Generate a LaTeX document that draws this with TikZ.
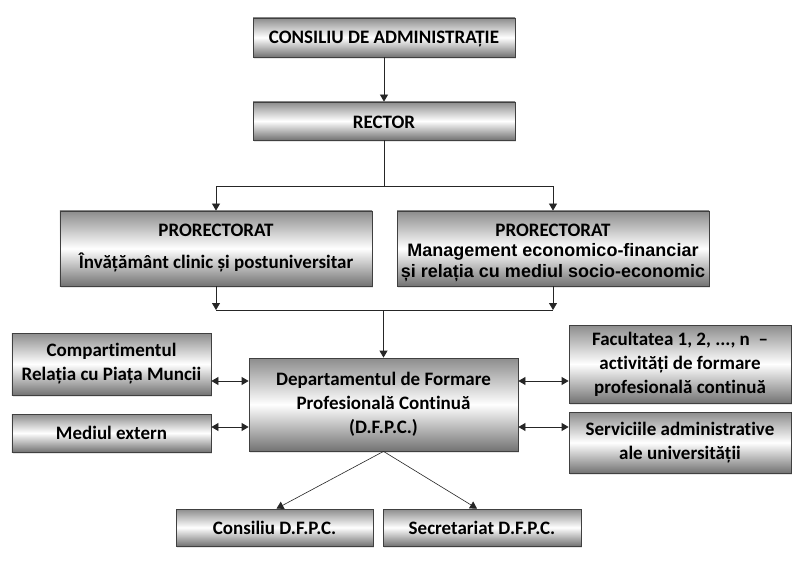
\documentclass[tikz,border=0pt]{standalone}
\usepackage{fontspec}
\setmainfont{Carlito}[Ligatures={NoCommon}]
\newfontfamily\arialb{Liberation Sans}
\usetikzlibrary{arrows.meta,shadows,calc}
\begin{document}
\begin{tikzpicture}[x=1bp,y=-1bp,
  box/.style={draw=black!75, line width=0.8bp, top color=black!45, bottom color=black!55, middle color=white,
    inner sep=0pt, align=center, font=\fontsize{19bp}{24bp}\selectfont\bfseries,
    drop shadow={shadow xshift=1.2bp, shadow yshift=-1.8bp, fill=black!20}},
  arr/.style={line width=0.8bp, draw=black!85, -{Triangle[length=7bp,width=8bp]}},
  dbl/.style={line width=0.8bp, draw=black!85, {Triangle[length=7bp,width=8bp]}-{Triangle[length=7bp,width=8bp]}},
  ln/.style={line width=0.8bp, draw=black!85}]
\useasboundingbox (0,0) rectangle (800,574);
\fill[white] (0,0) rectangle (800,574);

\node[box, minimum width=262bp, minimum height=39bp] (cda) at (384,37.5) {\rule{0pt}{16bp}CONSILIU DE ADMINISTRAȚIE};
\node[box, minimum width=262bp, minimum height=38bp] (rec) at (384,121) {\rule{0pt}{16bp}RECTOR};
\node[box, minimum width=312bp, minimum height=75bp] (pl) at (216,248.5) {PRORECTORAT\\[8bp]Învățământ clinic și postuniversitar};
\node[box, minimum width=312bp, minimum height=75bp] (pr) at (553,248.5) {\rule{0pt}{22bp}PRORECTORAT\\[-4bp]{\arialb\fontsize{18bp}{20bp}\selectfont Management economico-financiar}\\[-3bp]{\arialb\fontsize{18bp}{20bp}\selectfont și relația cu mediul socio-economic}};
\node[box, minimum width=199bp, minimum height=62bp] (comp) at (111.5,364) {Compartimentul\\Relația cu Piața Muncii};
\node[box, minimum width=199bp, minimum height=38bp] (med) at (111.5,433) {Mediul extern};
\node[box, minimum width=269bp, minimum height=93bp] (dfpc) at (383.5,404.5) {Departamentul de Formare\\Profesională Continuă\\(D.F.P.C.)};
\node[box, minimum width=222bp, minimum height=78bp] (fac) at (680,364) {Facultatea 1, 2, ..., n \ --\\activități de formare\\profesională continuă};
\node[box, minimum width=222bp, minimum height=61bp] (serv) at (680,442.5) {Serviciile administrative\\ale universității};
\node[box, minimum width=197bp, minimum height=37bp] (cons) at (274.5,527.5) {Consiliu D.F.P.C.};
\node[box, minimum width=198bp, minimum height=37bp] (sec) at (482,527.5) {Secretariat D.F.P.C.};

\coordinate (b1) at (384,186);
\coordinate (b2) at (384,310);

\draw[arr] (cda) -- (rec);
\draw[ln] (rec.south) -- (b1);
\draw[arr] (b1) -| (pl.north);
\draw[arr] (b1) -| (pr.north);
\draw[arr] (pl.south) -- (pl.south |- b2);
\draw[arr] (pr.south) -- (pr.south |- b2);
\draw[ln] (pl.south |- b2) -- (pr.south |- b2);
\draw[arr] (dfpc.north |- b2) -- (dfpc.north);

\draw[dbl] (comp.east |- 0,381) -- (dfpc.west |- 0,381);
\draw[dbl] (med.east |- 0,427) -- (dfpc.west |- 0,427);
\draw[dbl] (dfpc.east |- 0,381) -- (fac.west |- 0,381);
\draw[dbl] (dfpc.east |- 0,427) -- (serv.west |- 0,427);

\draw[arr, line width=0.6bp] (dfpc.south) -- ($(cons.north)+(2,0)$);
\draw[arr, line width=0.6bp] (dfpc.south) -- ($(sec.north)+(-5,0)$);
\end{tikzpicture}
\end{document}
